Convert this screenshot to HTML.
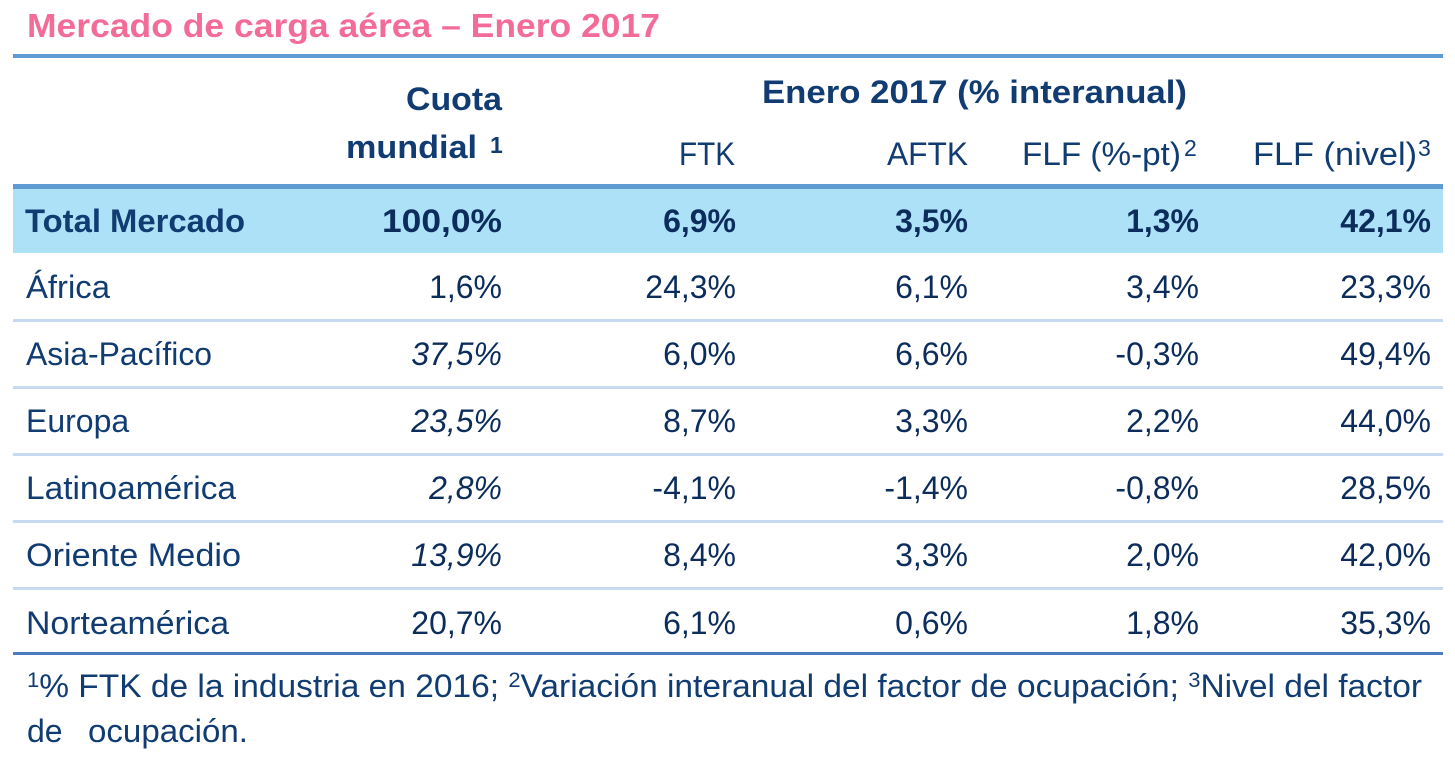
<!DOCTYPE html>
<html>
<head>
<meta charset="utf-8">
<style>
  html, body { margin: 0; padding: 0; background: #ffffff; }
  svg { display: block; }
  text { font-family: "Liberation Sans", Arial, sans-serif; }
  .lbl { fill: #113c72; font-size: 32px; }
  .val { fill: #0c2d5c; font-size: 32px; }
  .hdr { fill: #113c72; font-size: 32px; }
  .b { font-weight: bold; }
  .i { font-style: italic; }
</style>
</head>
<body>
<svg width="1455" height="772" viewBox="0 0 1455 772" xmlns="http://www.w3.org/2000/svg">
  <rect x="0" y="0" width="1455" height="772" fill="#ffffff"/>

  <!-- Title -->
  <text x="27" y="37" font-size="33" font-weight="bold" fill="#f36c98" textLength="633" lengthAdjust="spacingAndGlyphs">Mercado de carga aérea – Enero 2017</text>

  <!-- Top rule -->
  <rect x="13" y="54" width="1430" height="4" fill="#5e9bd4"/>

  <!-- Header -->
  <text class="hdr b" x="502" y="110" text-anchor="end" textLength="96" lengthAdjust="spacingAndGlyphs">Cuota</text>
  <text class="hdr b" x="477" y="158" text-anchor="end" textLength="131" lengthAdjust="spacingAndGlyphs">mundial</text>
  <text x="490" y="153" style="font-size:23px;font-weight:bold;fill:#113c72">1</text>

  <text class="hdr b" x="762" y="103" textLength="425" lengthAdjust="spacingAndGlyphs">Enero 2017 (% interanual)</text>

  <text class="hdr" x="735" y="165" text-anchor="end" textLength="56" lengthAdjust="spacingAndGlyphs">FTK</text>
  <text class="hdr" x="968" y="165" text-anchor="end" textLength="81" lengthAdjust="spacingAndGlyphs">AFTK</text>
  <text class="hdr" x="1022" y="165" textLength="159" lengthAdjust="spacingAndGlyphs">FLF (%-pt)</text>
  <text x="1184" y="156" style="font-size:23px;fill:#113c72">2</text>
  <text class="hdr" x="1253" y="165" textLength="164" lengthAdjust="spacingAndGlyphs">FLF (nivel)</text>
  <text x="1418" y="156" style="font-size:23px;fill:#113c72">3</text>

  <!-- Header underline -->
  <rect x="13" y="184" width="1430" height="5" fill="#5e9bd4"/>

  <!-- Total row background -->
  <rect x="13" y="189" width="1430" height="64" fill="#ade1f8"/>

  <!-- Total row -->
  <text class="lbl b" x="25" y="232" textLength="220" lengthAdjust="spacingAndGlyphs">Total Mercado</text>
  <text class="val b" x="502" y="232" text-anchor="end" fill="#0f3a70" textLength="120" lengthAdjust="spacingAndGlyphs">100,0%</text>
  <text class="val b" x="736" y="232" text-anchor="end" fill="#0f3a70">6,9%</text>
  <text class="val b" x="968" y="232" text-anchor="end" fill="#0f3a70">3,5%</text>
  <text class="val b" x="1199" y="232" text-anchor="end" fill="#0f3a70">1,3%</text>
  <text class="val b" x="1431" y="232" text-anchor="end" fill="#0f3a70">42,1%</text>

  <!-- Row separators -->
  <rect x="13" y="319" width="1430" height="3" fill="#c6d9f0"/>
  <rect x="13" y="386" width="1430" height="3" fill="#c6d9f0"/>
  <rect x="13" y="453" width="1430" height="3" fill="#c6d9f0"/>
  <rect x="13" y="520" width="1430" height="3" fill="#c6d9f0"/>
  <rect x="13" y="587" width="1430" height="3" fill="#c6d9f0"/>

  <!-- Bottom rule -->
  <rect x="13" y="652" width="1430" height="3" fill="#4a7bbf"/>

  <!-- África -->
  <text class="lbl" x="26" y="298" textLength="84" lengthAdjust="spacingAndGlyphs">África</text>
  <text class="val" x="502" y="298" text-anchor="end" fill="#11427c">1,6%</text>
  <text class="val" x="736" y="298" text-anchor="end">24,3%</text>
  <text class="val" x="968" y="298" text-anchor="end">6,1%</text>
  <text class="val" x="1199" y="298" text-anchor="end">3,4%</text>
  <text class="val" x="1431" y="298" text-anchor="end">23,3%</text>

  <!-- Asia-Pacífico -->
  <text class="lbl" x="26" y="365" textLength="186" lengthAdjust="spacingAndGlyphs">Asia-Pacífico</text>
  <text class="val i" x="502" y="365" text-anchor="end">37,5%</text>
  <text class="val" x="736" y="365" text-anchor="end">6,0%</text>
  <text class="val" x="968" y="365" text-anchor="end">6,6%</text>
  <text class="val" x="1199" y="365" text-anchor="end">-0,3%</text>
  <text class="val" x="1431" y="365" text-anchor="end">49,4%</text>

  <!-- Europa -->
  <text class="lbl" x="26" y="432">Europa</text>
  <text class="val i" x="502" y="432" text-anchor="end">23,5%</text>
  <text class="val" x="736" y="432" text-anchor="end">8,7%</text>
  <text class="val" x="968" y="432" text-anchor="end">3,3%</text>
  <text class="val" x="1199" y="432" text-anchor="end">2,2%</text>
  <text class="val" x="1431" y="432" text-anchor="end">44,0%</text>

  <!-- Latinoamérica -->
  <text class="lbl" x="26" y="499" textLength="210" lengthAdjust="spacingAndGlyphs">Latinoamérica</text>
  <text class="val i" x="502" y="499" text-anchor="end">2,8%</text>
  <text class="val" x="736" y="499" text-anchor="end">-4,1%</text>
  <text class="val" x="968" y="499" text-anchor="end">-1,4%</text>
  <text class="val" x="1199" y="499" text-anchor="end">-0,8%</text>
  <text class="val" x="1431" y="499" text-anchor="end">28,5%</text>

  <!-- Oriente Medio -->
  <text class="lbl" x="26" y="566" textLength="215" lengthAdjust="spacingAndGlyphs">Oriente Medio</text>
  <text class="val i" x="502" y="566" text-anchor="end">13,9%</text>
  <text class="val" x="736" y="566" text-anchor="end">8,4%</text>
  <text class="val" x="968" y="566" text-anchor="end">3,3%</text>
  <text class="val" x="1199" y="566" text-anchor="end">2,0%</text>
  <text class="val" x="1431" y="566" text-anchor="end">42,0%</text>

  <!-- Norteamérica -->
  <text class="lbl" x="26" y="634" textLength="203" lengthAdjust="spacingAndGlyphs">Norteamérica</text>
  <text class="val" x="502" y="634" text-anchor="end">20,7%</text>
  <text class="val" x="736" y="634" text-anchor="end">6,1%</text>
  <text class="val" x="968" y="634" text-anchor="end">0,6%</text>
  <text class="val" x="1199" y="634" text-anchor="end">1,8%</text>
  <text class="val" x="1431" y="634" text-anchor="end">35,3%</text>

  <!-- Footnote -->
  <text class="lbl" x="27" y="697" textLength="1395" lengthAdjust="spacingAndGlyphs"><tspan font-size="21" dy="-10">1</tspan><tspan dy="10">% FTK de la industria en 2016; </tspan><tspan font-size="21" dy="-10">2</tspan><tspan dy="10">Variación interanual del factor de ocupación; </tspan><tspan font-size="21" dy="-10">3</tspan><tspan dy="10">Nivel del factor</tspan></text>
  <text class="lbl" x="27" y="742">de</text>
  <text class="lbl" x="88" y="742" textLength="160" lengthAdjust="spacingAndGlyphs">ocupación.</text>
</svg>
</body>
</html>
